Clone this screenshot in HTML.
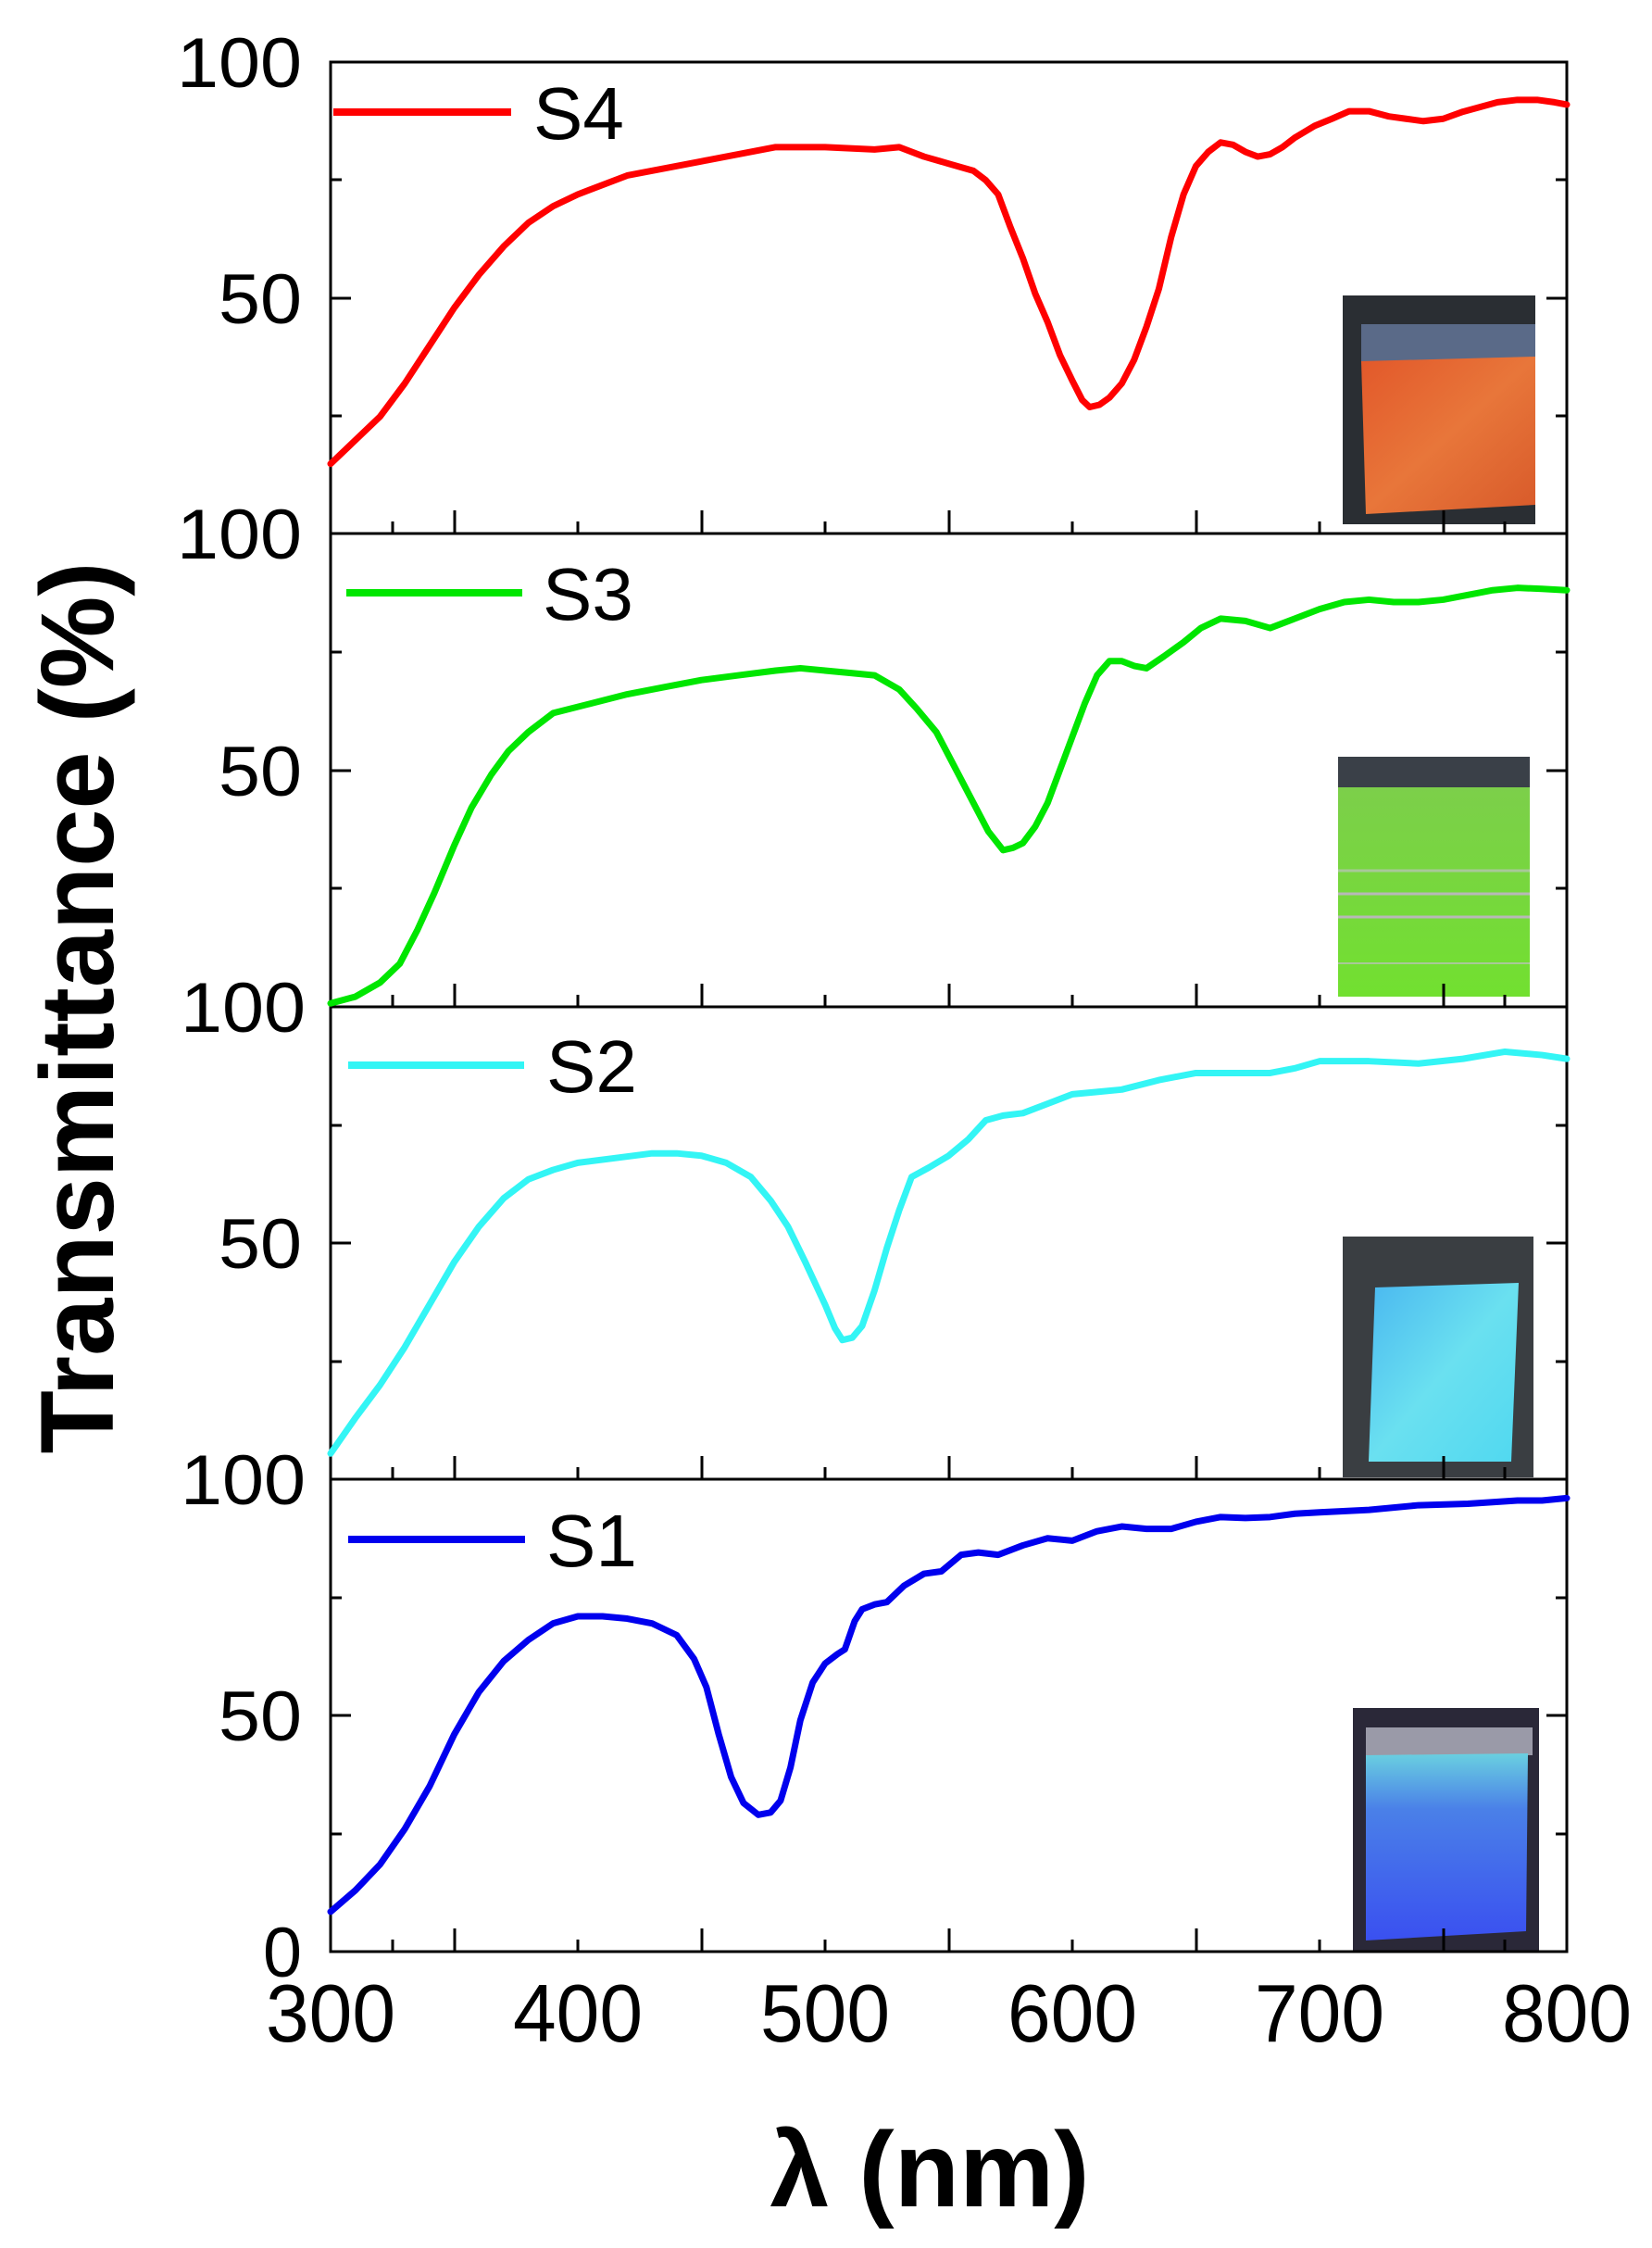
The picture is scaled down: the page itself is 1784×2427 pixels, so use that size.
<!DOCTYPE html>
<html><head><meta charset="utf-8"><style>
html,body{margin:0;padding:0;background:#fff;}
svg{display:block;}
text{font-family:"Liberation Sans",Arial,sans-serif;fill:#000;}
.c{fill:none;stroke-width:7;stroke-linejoin:round;stroke-linecap:round;}
</style></head><body>
<svg width="1784" height="2427" viewBox="0 0 1784 2427" xmlns="http://www.w3.org/2000/svg">
<defs>
<linearGradient id="gO" x1="0" y1="0" x2="1" y2="1"><stop offset="0" stop-color="#e2582a"/><stop offset="0.5" stop-color="#e8763a"/><stop offset="1" stop-color="#d85a2a"/></linearGradient>
<linearGradient id="gG" x1="0" y1="0" x2="0" y2="1"><stop offset="0" stop-color="#7ccf4a"/><stop offset="1" stop-color="#72e030"/></linearGradient>
<linearGradient id="gC" x1="0" y1="0" x2="1" y2="1"><stop offset="0" stop-color="#4ab8f0"/><stop offset="0.5" stop-color="#6ae0f0"/><stop offset="1" stop-color="#50d8f0"/></linearGradient>
<linearGradient id="gB" x1="0" y1="0" x2="0" y2="1"><stop offset="0" stop-color="#6ad0e0"/><stop offset="0.3" stop-color="#4a80e8"/><stop offset="1" stop-color="#3a50f0"/></linearGradient>
</defs>

<rect x="1450" y="319" width="208" height="247" fill="#2a2e33"/>
<rect x="1470" y="350" width="188" height="40" fill="#5a6a88"/>
<polygon points="1470,390 1658,385 1658,545 1475,555" fill="url(#gO)"/>

<rect x="1445" y="817" width="207" height="259" fill="#3a4048"/>
<rect x="1445" y="850" width="207" height="226" fill="url(#gG)"/>
<line x1="1445" y1="940" x2="1652" y2="940" stroke="#a8c898" stroke-width="3"/>
<line x1="1445" y1="965" x2="1652" y2="965" stroke="#b8b8b8" stroke-width="3"/>
<line x1="1445" y1="990" x2="1652" y2="990" stroke="#b8b8b8" stroke-width="3"/>
<line x1="1445" y1="1040" x2="1652" y2="1040" stroke="#a8c898" stroke-width="2"/>

<rect x="1450" y="1335" width="206" height="260" fill="#3a3e42"/>
<polygon points="1485,1390 1640,1385 1632,1578 1478,1578" fill="url(#gC)"/>

<rect x="1461" y="1844" width="201" height="264" fill="#2a2838"/>
<rect x="1475" y="1865" width="180" height="30" fill="#9a9aa8"/>
<polygon points="1475,1895 1650,1893 1648,2085 1475,2095" fill="url(#gB)"/>

<g stroke="#000" stroke-width="3" fill="none">
<rect x="357" y="67" width="1335" height="2040"/>
<line x1="357" y1="576" x2="1692" y2="576"/>
<line x1="357" y1="1087" x2="1692" y2="1087"/>
<line x1="357" y1="1597" x2="1692" y2="1597"/>
</g>

<g stroke="#000" stroke-width="3">
<path d="M491,576v-25M758,576v-25M1025,576v-25M1292,576v-25M1559,576v-25M424,576v-13M624,576v-13M891,576v-13M1158,576v-13M1425,576v-13M1625,576v-13"/>
<path d="M491,1087v-25M758,1087v-25M1025,1087v-25M1292,1087v-25M1559,1087v-25M424,1087v-13M624,1087v-13M891,1087v-13M1158,1087v-13M1425,1087v-13M1625,1087v-13"/>
<path d="M491,1597v-25M758,1597v-25M1025,1597v-25M1292,1597v-25M1559,1597v-25M424,1597v-13M624,1597v-13M891,1597v-13M1158,1597v-13M1425,1597v-13M1625,1597v-13"/>
<path d="M491,2107v-25M758,2107v-25M1025,2107v-25M1292,2107v-25M1559,2107v-25M424,2107v-13M624,2107v-13M891,2107v-13M1158,2107v-13M1425,2107v-13M1625,2107v-13"/>
<path d="M357,194h12M357,322h22M357,449h12M1692,194h-12M1692,322h-22M1692,449h-12"/>
<path d="M357,704h12M357,832h22M357,959h12M1692,704h-12M1692,832h-22M1692,959h-12"/>
<path d="M357,1215h12M357,1342h22M357,1470h12M1692,1215h-12M1692,1342h-22M1692,1470h-12"/>
<path d="M357,1725h12M357,1852h22M357,1980h12M1692,1725h-12M1692,1852h-22M1692,1980h-12"/>
</g>

<g transform="translate(-444,577.3) scale(2.67,-5.103)">
<polyline class="c" vector-effect="non-scaling-stroke" stroke="#ff0000" points="300,15 310,20 320,25 330,32 340,40 350,48 360,55 370,61 380,66 390,69.5 400,72 420,76 450,79 480,82 500,82 520,81.5 530,82 540,80 550,78.5 560,77 565,75 570,72 575,65 580,58.5 585,51 590,45 595,38 600,32.6 604,28.5 607,27 611,27.5 615,29 620,32 625,37 630,44 635,52 640,63 645,72 650,78 655,81 660,83 665,82.5 670,81 675,80 680,80.5 685,82 690,84 698,86.5 705,88 712,89.6 720,89.6 728,88.5 735,88 742,87.5 750,88 758,89.5 765,90.5 772,91.5 780,92 788,92 795,91.5 800,91"/>
</g>
<g transform="translate(-444,1086.3) scale(2.67,-5.103)">
<polyline class="c" vector-effect="non-scaling-stroke" stroke="#00e600" points="300,0.6 310,2 320,5 328,9 335,16 342,24 350,34 357,42 365,49 372,54 380,58 390,62 405,64 420,66 435,67.5 450,69 465,70 480,71 490,71.5 500,71 510,70.5 520,70 530,67 537,63 545,58 552,51 560,43 566,37 572,33 576,33.5 580,34.5 585,38 590,43 595,50 600,57 605,64 610,70 615,73 620,73 625,72 630,71.5 637,74 645,77 652,80 660,82 670,81.5 680,80 690,82 700,84 710,85.5 720,86 730,85.5 740,85.5 750,86 760,87 770,88 780,88.5 790,88.3 800,88"/>
</g>
<g transform="translate(-444,1597.3) scale(2.67,-5.103)">
<polyline class="c" vector-effect="non-scaling-stroke" stroke="#33f5f5" points="300,5.5 310,13 320,20 330,28 340,37 350,46 360,53.5 370,59.5 380,63.5 390,65.5 400,67 415,68 430,69 440,69 450,68.5 460,67 470,64 478,59 485,53.5 492,46 500,37 504,32 507,29.5 511,30 515,32.5 520,40 525,49 530,57 535,64 542,66 550,68.5 558,72 565,76 572,77 580,77.5 590,79.5 600,81.5 610,82 620,82.5 635,84.5 650,86 665,86 680,86 690,87 700,88.5 720,88.5 740,88 758,89 775,90.5 790,89.8 800,89"/>
</g>
<g transform="translate(-444,2107.3) scale(2.67,-5.103)">
<polyline class="c" vector-effect="non-scaling-stroke" stroke="#0000ee" points="300,8.5 310,13 320,18.5 330,26 340,35 350,46 360,55 370,61.5 380,66 390,69.5 400,71 410,71 420,70.5 430,69.5 440,67 447,62 452,56 457,46 462,37 467,31.5 473,29 478,29.5 482,32 486,39 490,49 495,57 500,61 505,63 508,64 512,70 515,72.5 520,73.5 525,74 532,77.5 540,80 547,80.5 555,84 562,84.5 570,84 580,86 590,87.5 600,87 610,89 620,90 630,89.5 640,89.5 650,91 660,92 670,91.8 680,92 690,92.7 700,93 720,93.5 740,94.5 760,94.8 780,95.5 790,95.5 800,96"/>
</g>

<line x1="360" y1="121" x2="552" y2="121" stroke="#ff0000" stroke-width="8"/>
<text x="576" y="150" font-size="80">S4</text>
<line x1="374" y1="640" x2="564" y2="640" stroke="#00e600" stroke-width="8"/>
<text x="586" y="669" font-size="80">S3</text>
<line x1="376" y1="1150" x2="566" y2="1150" stroke="#33f5f5" stroke-width="8"/>
<text x="590" y="1179" font-size="80">S2</text>
<line x1="376" y1="1662" x2="567" y2="1662" stroke="#0000ee" stroke-width="8"/>
<text x="590" y="1691" font-size="80">S1</text>

<g font-size="76" text-anchor="end">
<text x="326" y="94" textLength="135" lengthAdjust="spacingAndGlyphs">100</text>
<text x="326" y="349" textLength="90" lengthAdjust="spacingAndGlyphs">50</text>
<text x="326" y="603" textLength="135" lengthAdjust="spacingAndGlyphs">100</text>
<text x="326" y="859" textLength="90" lengthAdjust="spacingAndGlyphs">50</text>
<text x="330" y="1114" textLength="135" lengthAdjust="spacingAndGlyphs">100</text>
<text x="326" y="1369" textLength="90" lengthAdjust="spacingAndGlyphs">50</text>
<text x="330" y="1624" textLength="135" lengthAdjust="spacingAndGlyphs">100</text>
<text x="326" y="1879" textLength="90" lengthAdjust="spacingAndGlyphs">50</text>
<text x="326" y="2134" textLength="42" lengthAdjust="spacingAndGlyphs">0</text>
</g>

<g font-size="88" text-anchor="middle">
<text x="357" y="2204" textLength="140" lengthAdjust="spacingAndGlyphs">300</text>
<text x="624" y="2204" textLength="140" lengthAdjust="spacingAndGlyphs">400</text>
<text x="891" y="2204" textLength="140" lengthAdjust="spacingAndGlyphs">500</text>
<text x="1158" y="2204" textLength="140" lengthAdjust="spacingAndGlyphs">600</text>
<text x="1425" y="2204" textLength="140" lengthAdjust="spacingAndGlyphs">700</text>
<text x="1692" y="2204" textLength="140" lengthAdjust="spacingAndGlyphs">800</text>
</g>

<text x="1004" y="2382" font-size="115" font-weight="bold" text-anchor="middle">λ (nm)</text>
<text transform="translate(122,1088) rotate(-90)" x="0" y="0" font-size="112" font-weight="bold" text-anchor="middle" textLength="963" lengthAdjust="spacingAndGlyphs">Transmittance (%)</text>
</svg>
</body></html>
